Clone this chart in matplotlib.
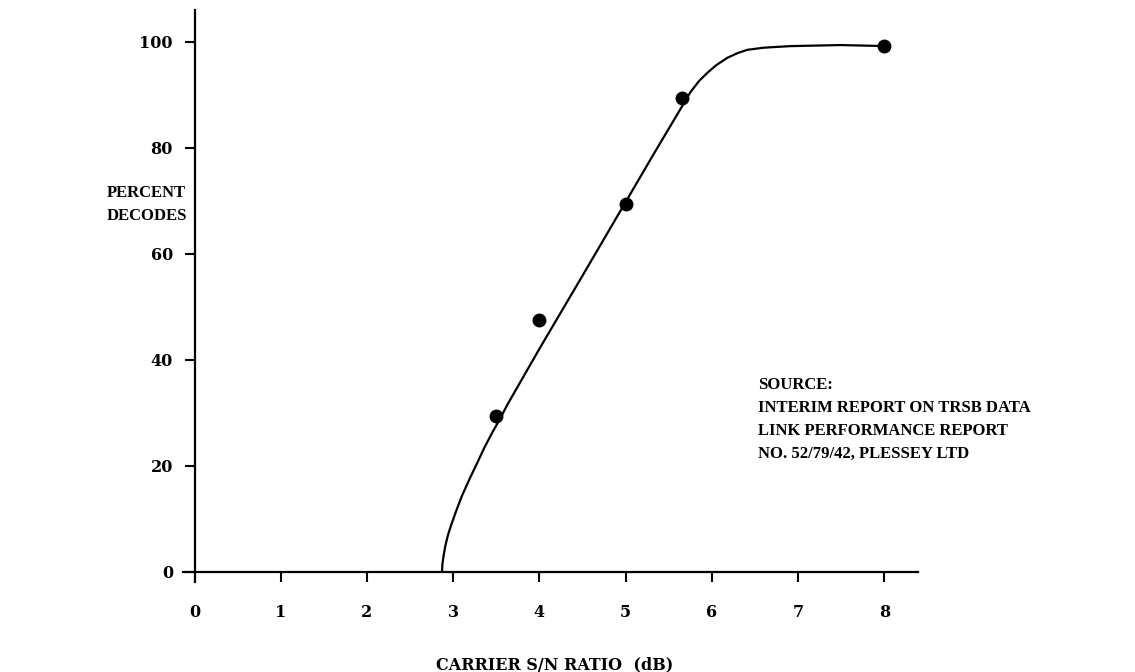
import matplotlib.pyplot as plt

# measured data points (carrier S/N ratio in dB, percent decodes)
snr_points = [3.5, 4.0, 5.0, 5.65, 8.0]
decode_points = [29.5, 47.5, 69.5, 89.5, 99.2]

# hand-drawn fitted curve
curve_snr = [2.87, 2.875, 2.89, 2.91, 2.94, 2.98, 3.03, 3.10, 3.20, 3.28, 3.36,
             3.45, 3.54, 3.63, 4.0, 4.5, 5.0, 5.32, 5.66, 5.75, 5.85, 5.95,
             6.05, 6.18, 6.30, 6.41, 6.60, 6.91, 7.49, 8.03]
curve_decodes = [0.0, 1.5, 3.2, 5.0, 7.0, 9.0, 11.3, 14.3, 17.9, 20.6, 23.4,
                 26.2, 28.8, 31.6, 42.1, 55.9, 69.8, 78.7, 88.0, 90.5, 92.6,
                 94.2, 95.6, 97.0, 97.9, 98.5, 98.9, 99.2, 99.4, 99.2]

x_ticks = [0, 1, 2, 3, 4, 5, 6, 7, 8]
y_ticks = [0, 20, 40, 60, 80, 100]

source_note = ("SOURCE:\nINTERIM REPORT ON TRSB DATA\n"
               "LINK PERFORMANCE REPORT\nNO. 52/79/42, PLESSEY LTD")

plt.rcParams["font.family"] = "DejaVu Serif"
TEXT_FONT = "Liberation Serif"

fig = plt.figure(figsize=(11.35, 6.72), dpi=100)
ax = fig.add_axes([0.1615, 0.134, 0.8088 - 0.1615, 0.985 - 0.134])

ax.plot(curve_snr, curve_decodes, color="black", lw=1.6,
        solid_capstyle="round", solid_joinstyle="round")
ax.plot(snr_points, decode_points, "o", color="black", ms=9)

ax.set_xlim(-0.13, 8.39)
ax.set_ylim(-1.9, 106)
ax.spines["left"].set_position(("data", 0))
ax.spines["bottom"].set_position(("data", 0))
for side in ("top", "right"):
    ax.spines[side].set_visible(False)
for side in ("left", "bottom"):
    ax.spines[side].set_linewidth(1.6)

ax.set_xticks(x_ticks)
ax.set_yticks(y_ticks)
ax.tick_params(axis="x", direction="out", length=7, width=1.5, pad=16,
               labelsize=11.5)
ax.tick_params(axis="y", direction="out", length=7, width=1.5, pad=8.5,
               labelsize=11.5)
for lab in ax.get_xticklabels() + ax.get_yticklabels():
    lab.set_fontweight("bold")

fig.text(107 / 1135, 1 - 185 / 672, "PERCENT\nDECODES", ha="left", va="top",
         fontsize=12, fontweight="bold", family=TEXT_FONT, linespacing=1.55)
fig.text(555 / 1135, 1 - 665 / 672, "CARRIER S/N RATIO  (dB)", ha="center",
         va="center", fontsize=11.5, fontweight="bold")
ax.text(6.53, 36.8, source_note, ha="left", va="top", fontsize=12,
        fontweight="bold", family=TEXT_FONT, linespacing=1.58)

fig.savefig("out.png", dpi=100)
